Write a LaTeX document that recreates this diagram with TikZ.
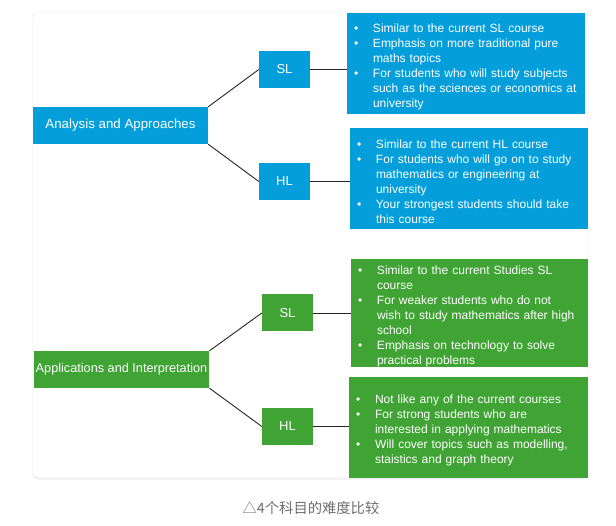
\documentclass[tikz,border=0pt]{standalone}
\usepackage{fontspec}
\setmainfont{Liberation Sans}
\newfontfamily\cjk{Noto Sans CJK SC}
\usetikzlibrary{shadows}

\definecolor{aablue}{RGB}{4,159,219}
\definecolor{aigreen}{RGB}{63,164,52}
\definecolor{capgray}{RGB}{110,110,110}

% one bullet line with hanging indent
\newcommand{\bul}[1]{\par\hangindent=19pt\hangafter=1\noindent\makebox[19pt][l]{\textbullet}#1\par}

\begin{document}
\begin{tikzpicture}[
    x=1pt, y=-1pt,
    % Color and box styles
    card/.style={fill=white, draw=black!12, rounded corners=5pt, drop shadow={opacity=0.12, shadow xshift=0pt, shadow yshift=-1.5pt}},
    mainbox/.style={minimum width=175pt, minimum height=37pt, inner xsep=2pt, text=white},
    lvlbox/.style={minimum width=51pt, minimum height=37pt, text=white, font=\fontsize{13}{15}\selectfont},
    txtbox/.style={minimum height=101pt, inner xsep=7pt, inner ysep=0pt, text=white, font=\fontsize{12}{15}\selectfont},
    link/.style={draw=black!85, line width=0.9pt}
]

% 1. Page and card
\useasboundingbox (0,0) rectangle (616,526);
\draw[card] (33,12) rectangle (588,478);

% 2. Analysis and Approaches
\node[mainbox, fill=aablue, font=\fontsize{13.3}{15}\selectfont] (aa) at (120.5,125.5) {Analysis and Approaches};
\node[lvlbox, fill=aablue] (asl) at (284.5,69.5) {SL};
\node[lvlbox, fill=aablue] (ahl) at (284.5,181.5) {HL};

\node[txtbox, fill=aablue, text width=224pt] (asltxt) at (466,63.5) {%
  \bul{Similar to the current SL course}
  \bul{Emphasis on more traditional pure\newline maths topics}
  \bul{For students who will study subjects\newline such as the sciences or economics at\newline university}};
\node[txtbox, fill=aablue, text width=224pt] (ahltxt) at (469,178.5) {%
  \bul{Similar to the current HL course}
  \bul{For students who will go on to study\newline mathematics or engineering at\newline university}
  \bul{Your strongest students should take\newline this course}};

% 3. Applications and Interpretation
\node[mainbox, fill=aigreen, font=\fontsize{12.7}{15}\selectfont] (ai) at (121.5,369.5) {Applications and Interpretation};
\node[lvlbox, fill=aigreen] (isl) at (287.5,313) {SL};
\node[lvlbox, fill=aigreen] (ihl) at (287.5,426.5) {HL};

\node[txtbox, fill=aigreen, text width=223pt, minimum height=108pt] (isltxt) at (469.5,313) {%
  \bul{Similar to the current Studies SL\newline course}
  \bul{For weaker students who do not\newline wish to study mathematics after high\newline school}
  \bul{Emphasis on technology to solve\newline practical problems}};
\node[txtbox, fill=aigreen, text width=225pt] (ihltxt) at (468.5,427.5) {%
  \bul{Not like any of the current courses}
  \bul{For strong students who are\newline interested in applying mathematics}
  \bul{Will cover topics such as modelling,\newline staistics and graph theory}};

% 4. Connectors
\draw[link] (aa.north east) -- (asl.west);
\draw[link] (aa.south east) -- (ahl.west);
\draw[link] (asl.east) -- (asl.east -| asltxt.west);
\draw[link] (ahl.east) -- (ahl.east -| ahltxt.west);
\draw[link] (ai.north east) -- (isl.west);
\draw[link] (ai.south east) -- (ihl.west);
\draw[link] (isl.east) -- (isl.east -| isltxt.west);
\draw[link] (ihl.east) -- (ihl.east -| ihltxt.west);

% 5. Caption
\node[text=capgray, font=\cjk\fontsize{14.3}{17}\selectfont] (cap) at (311,508) {△4个科目的难度比较};

\end{tikzpicture}
\end{document}
